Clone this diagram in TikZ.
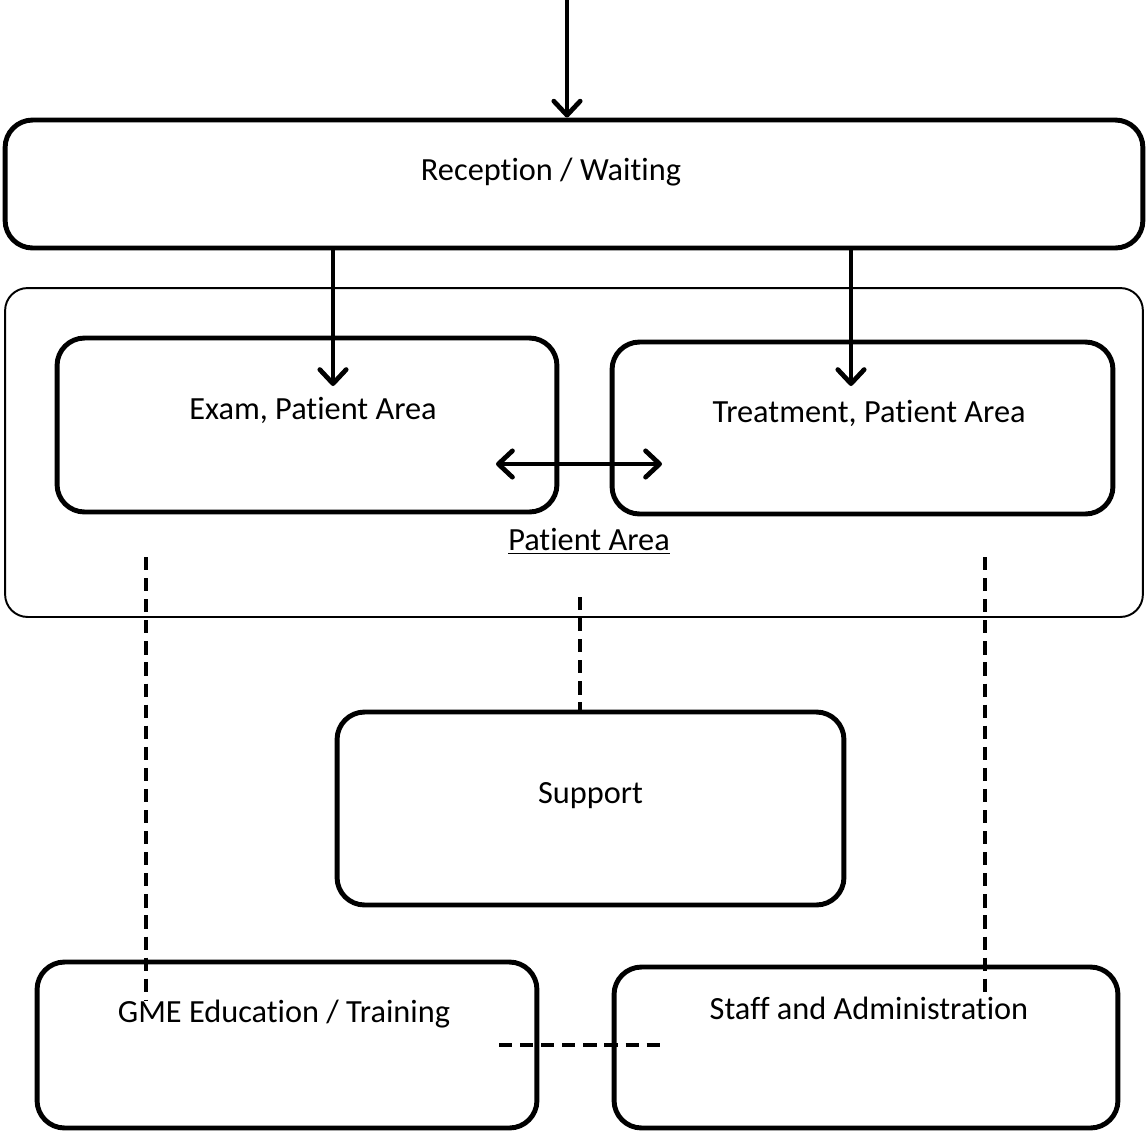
\documentclass[tikz,border=0pt]{standalone}
\usepackage{fontspec}
\setmainfont[Ligatures=NoCommon]{Carlito}
\usetikzlibrary{arrows.meta}
\tikzset{
  box/.style={draw, line width=2.8pt, rounded corners=0.55cm, inner sep=0pt},
  areabox/.style={draw, line width=1.1pt, rounded corners=0.45cm, inner sep=0pt},
  arr/.style={line width=2.7pt, -{Straight Barb[length=8pt,width=15pt,round]}},
  dasharr/.style={line width=2.7pt, dash pattern=on 7.5pt off 4.5pt}
}
\begin{document}
\begin{tikzpicture}[x=0.02cm, y=-0.02cm, font=\fontsize{18.4}{21}\selectfont]
\useasboundingbox (0,0) rectangle (1147,1134);

\node[box, minimum width=22.76cm, minimum height=2.56cm,
  label={[yshift=0.24cm, xshift=-0.46cm]center:Reception / Waiting}] (recep) at (574,184) {};
\node[areabox, minimum width=22.76cm, minimum height=6.58cm] (patient) at (574,452.5) {};
\node[box, minimum width=10cm, minimum height=3.48cm,
  label={[yshift=0.3cm, xshift=0.12cm]center:Exam, Patient Area}] (exam) at (307,425) {};
\node[box, minimum width=10.02cm, minimum height=3.44cm,
  label={[yshift=0.3cm, xshift=0.13cm]center:Treatment, Patient Area}] (treat) at (862.5,428) {};
\node (patlabel) at (589,541) {\underline{Patient Area}};
\node[box, minimum width=10.14cm, minimum height=3.86cm,
  label={[yshift=0.25cm]center:Support}] (support) at (590.5,808.5) {};
\node[box, minimum width=10cm, minimum height=3.32cm,
  label={[yshift=0.62cm, xshift=-0.06cm]center:GME Education / Training}] (gme) at (287,1045) {};
\node[box, minimum width=10.08cm, minimum height=3.22cm,
  label={[yshift=0.79cm, xshift=0.06cm]center:Staff and Administration}] (staff) at (866,1047.5) {};

% arrows
\coordinate (entry) at (567,0);
\coordinate (examin) at (333,386);
\coordinate (treatin) at (851,386);
\coordinate (swapl) at (496,464);
\coordinate (swapr) at (662,464);
\draw[arr] (entry) -- (entry |- recep.north);
\draw[arr] (examin |- recep.south) -- (examin);
\draw[arr] (treatin |- recep.south) -- (treatin);
\draw[arr, {Straight Barb[length=8pt,width=15pt,round]}-{Straight Barb[length=8pt,width=15pt,round]}] (swapl) -- (swapr);

% dashed links
\coordinate (gmetop) at (146,557);
\coordinate (gmeend) at (146,1000);
\coordinate (supptop) at (580,597);
\coordinate (stafftop) at (985,557);
\coordinate (staffend) at (985,997);
\coordinate (linkl) at (499,1045);
\coordinate (linkr) at (664,1045);
\draw[dasharr] (gmetop) -- (gmeend);
\draw[dasharr] (supptop) -- (supptop |- support.north);
\draw[dasharr] (stafftop) -- (staffend);
\draw[dasharr] (linkl) -- (linkr);
\end{tikzpicture}
\end{document}
